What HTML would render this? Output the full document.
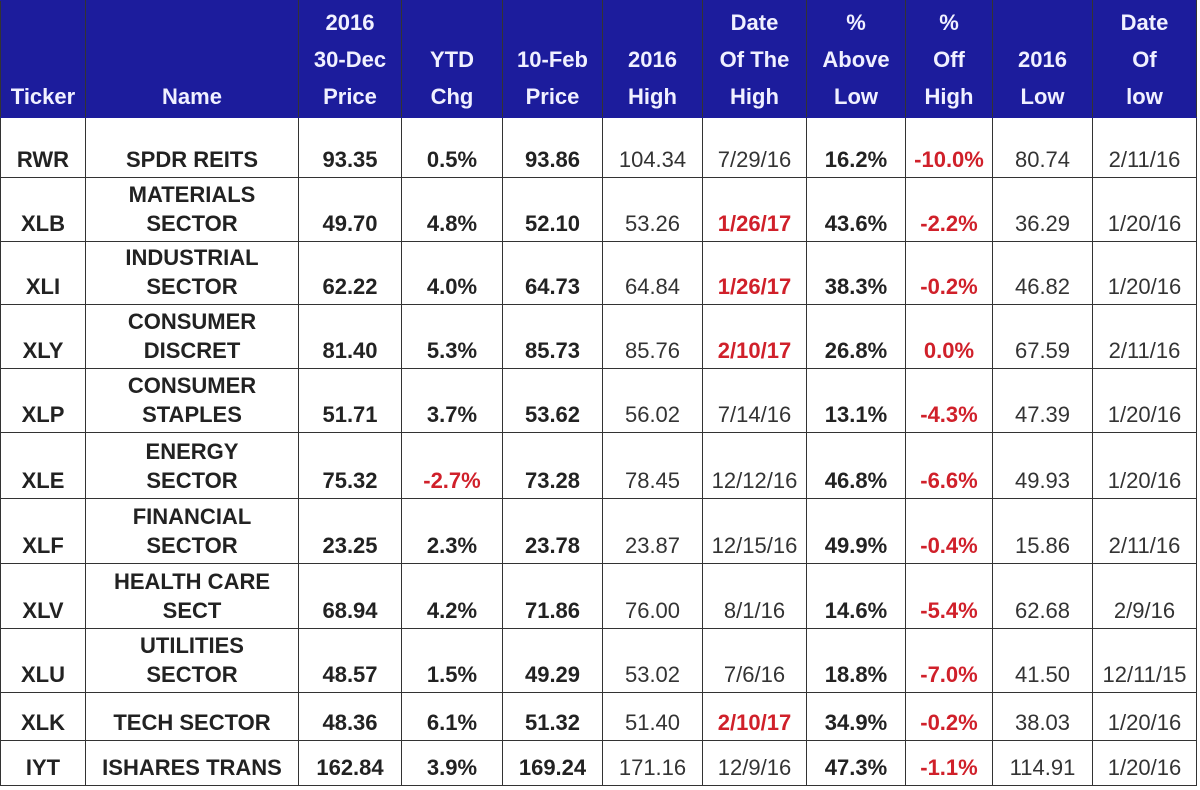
<!DOCTYPE html>
<html><head><style>
body{margin:0;background:#fff;width:1200px;height:790px;overflow:hidden}
table{position:absolute;left:0;top:0;border-collapse:collapse;table-layout:fixed;width:1196px;font-family:"Liberation Sans",Arial,sans-serif;font-size:22px;color:#222}
td,th{border:1.5px solid #333;text-align:center;padding:0 1px 3px;vertical-align:bottom;line-height:29px;overflow:hidden;white-space:nowrap}
th{background:#1c1c9c;color:#f0f0ff;font-weight:bold;line-height:37px;padding-bottom:2px;border-color:#1c1c9c #333}
td{font-weight:bold}
.n{font-weight:normal;color:#333}
.r{color:#d0202a}
</style></head><body>
<table>
<colgroup><col style="width:85px"><col style="width:213px"><col style="width:103px"><col style="width:101px"><col style="width:100px"><col style="width:100px"><col style="width:104px"><col style="width:99px"><col style="width:87px"><col style="width:100px"><col style="width:104px"></colgroup>
<tr style="height:117px"><th>Ticker</th><th>Name</th><th>2016<br>30-Dec<br>Price</th><th>YTD<br>Chg</th><th>10-Feb<br>Price</th><th>2016<br>High</th><th>Date<br>Of The<br>High</th><th>%<br>Above<br>Low</th><th>%<br>Off<br>High</th><th>2016<br>Low</th><th>Date<br>Of<br>low</th></tr>
<tr style="height:60px"><td>RWR</td><td>SPDR REITS</td><td>93.35</td><td>0.5%</td><td>93.86</td><td class="n">104.34</td><td class="n">7/29/16</td><td>16.2%</td><td class="r">-10.0%</td><td class="n">80.74</td><td class="n">2/11/16</td></tr>
<tr style="height:64px"><td>XLB</td><td>MATERIALS<br>SECTOR</td><td>49.70</td><td>4.8%</td><td>52.10</td><td class="n">53.26</td><td class="r">1/26/17</td><td>43.6%</td><td class="r">-2.2%</td><td class="n">36.29</td><td class="n">1/20/16</td></tr>
<tr style="height:63px"><td>XLI</td><td>INDUSTRIAL<br>SECTOR</td><td>62.22</td><td>4.0%</td><td>64.73</td><td class="n">64.84</td><td class="r">1/26/17</td><td>38.3%</td><td class="r">-0.2%</td><td class="n">46.82</td><td class="n">1/20/16</td></tr>
<tr style="height:64px"><td>XLY</td><td>CONSUMER<br>DISCRET</td><td>81.40</td><td>5.3%</td><td>85.73</td><td class="n">85.76</td><td class="r">2/10/17</td><td>26.8%</td><td class="r">0.0%</td><td class="n">67.59</td><td class="n">2/11/16</td></tr>
<tr style="height:64px"><td>XLP</td><td>CONSUMER<br>STAPLES</td><td>51.71</td><td>3.7%</td><td>53.62</td><td class="n">56.02</td><td class="n">7/14/16</td><td>13.1%</td><td class="r">-4.3%</td><td class="n">47.39</td><td class="n">1/20/16</td></tr>
<tr style="height:66px"><td>XLE</td><td>ENERGY<br>SECTOR</td><td>75.32</td><td class="r">-2.7%</td><td>73.28</td><td class="n">78.45</td><td class="n">12/12/16</td><td>46.8%</td><td class="r">-6.6%</td><td class="n">49.93</td><td class="n">1/20/16</td></tr>
<tr style="height:65px"><td>XLF</td><td>FINANCIAL<br>SECTOR</td><td>23.25</td><td>2.3%</td><td>23.78</td><td class="n">23.87</td><td class="n">12/15/16</td><td>49.9%</td><td class="r">-0.4%</td><td class="n">15.86</td><td class="n">2/11/16</td></tr>
<tr style="height:65px"><td>XLV</td><td>HEALTH CARE<br>SECT</td><td>68.94</td><td>4.2%</td><td>71.86</td><td class="n">76.00</td><td class="n">8/1/16</td><td>14.6%</td><td class="r">-5.4%</td><td class="n">62.68</td><td class="n">2/9/16</td></tr>
<tr style="height:64px"><td>XLU</td><td>UTILITIES<br>SECTOR</td><td>48.57</td><td>1.5%</td><td>49.29</td><td class="n">53.02</td><td class="n">7/6/16</td><td>18.8%</td><td class="r">-7.0%</td><td class="n">41.50</td><td class="n">12/11/15</td></tr>
<tr style="height:48px"><td>XLK</td><td>TECH SECTOR</td><td>48.36</td><td>6.1%</td><td>51.32</td><td class="n">51.40</td><td class="r">2/10/17</td><td>34.9%</td><td class="r">-0.2%</td><td class="n">38.03</td><td class="n">1/20/16</td></tr>
<tr style="height:45px"><td>IYT</td><td>ISHARES TRANS</td><td>162.84</td><td>3.9%</td><td>169.24</td><td class="n">171.16</td><td class="n">12/9/16</td><td>47.3%</td><td class="r">-1.1%</td><td class="n">114.91</td><td class="n">1/20/16</td></tr>
</table>
</body></html>
